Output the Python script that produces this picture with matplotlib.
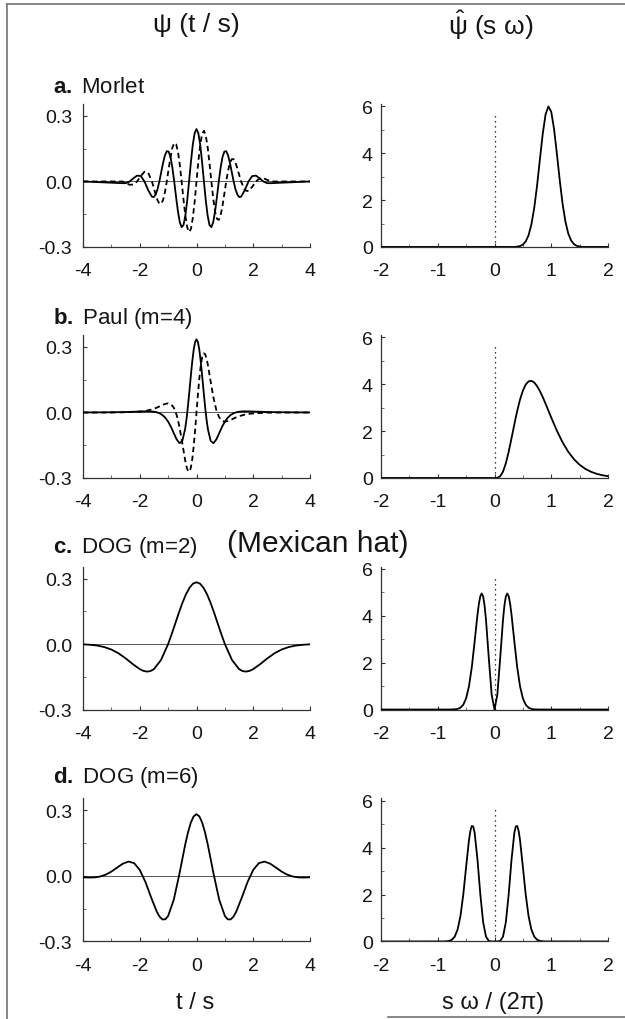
import matplotlib
matplotlib.use("Agg")
import matplotlib.pyplot as plt
from matplotlib.lines import Line2D

plt.rcParams['font.family'] = ['Liberation Sans', 'DejaVu Sans']
plt.rcParams['mathtext.fontset'] = 'custom'
plt.rcParams['mathtext.rm'] = 'Liberation Sans'
plt.rcParams['mathtext.it'] = 'Liberation Sans:italic'
plt.rcParams['mathtext.bf'] = 'Liberation Sans:bold'
plt.rcParams['axes.unicode_minus'] = False

# ---- a. Morlet: real (solid) and imaginary (dashed) part, and spectrum
morlet_t = [-4.0, -2.618, -2.487, -2.356, -2.225, -2.094, -1.963, -1.833, -1.702,
            -1.571, -1.505, -1.440, -1.374, -1.309, -1.244, -1.178, -1.113, -1.047,
            -0.982, -0.916, -0.851, -0.785, -0.720, -0.654, -0.589, -0.524, -0.458,
            -0.393, -0.327, -0.262, -0.196, -0.131, -0.065, 0.0,
            0.065, 0.131, 0.196, 0.262, 0.327, 0.393, 0.458, 0.524, 0.589, 0.654,
            0.720, 0.785, 0.851, 0.916, 0.982, 1.047, 1.113, 1.178, 1.244, 1.309,
            1.374, 1.440, 1.505, 1.571, 1.702, 1.833, 1.963, 2.094, 2.225, 2.356,
            2.487, 2.618, 4.0]
morlet_re = [0.0, -0.0078, -0.0077, 0.0, 0.0143, 0.0268, 0.0247, 0.0, -0.0399,
             -0.0699, -0.0714, -0.0602, -0.0357, 0.0, 0.0424, 0.0848, 0.1194, 0.1387,
             0.1370, 0.1115, 0.0640, 0.0, -0.0709, -0.1370, -0.1864, -0.2093, -0.1996,
             -0.1571, -0.0871, 0.0, 0.0901, 0.1683, 0.2213, 0.2400,
             0.2213, 0.1683, 0.0901, 0.0, -0.0871, -0.1571, -0.1996, -0.2093, -0.1864,
             -0.1370, -0.0709, 0.0, 0.0640, 0.1115, 0.1370, 0.1387, 0.1194, 0.0848,
             0.0424, 0.0, -0.0357, -0.0602, -0.0714, -0.0699, -0.0399, 0.0, 0.0247,
             0.0268, 0.0143, 0.0, -0.0077, -0.0078, 0.0]
morlet_im = [0.0, 0.0, -0.0077, -0.0150, -0.0143, 0.0, 0.0247, 0.0448, 0.0399,
             0.0, -0.0296, -0.0602, -0.0862, -0.1019, -0.1023, -0.0848, -0.0495, 0.0,
             0.0567, 0.1115, 0.1544, 0.1763, 0.1711, 0.1370, 0.0772, 0.0, -0.0827,
             -0.1571, -0.2102, -0.2319, -0.2175, -0.1683, -0.0917, 0.0,
             0.0917, 0.1683, 0.2175, 0.2319, 0.2102, 0.1571, 0.0827, 0.0, -0.0772,
             -0.1370, -0.1711, -0.1763, -0.1544, -0.1115, -0.0567, 0.0, 0.0495, 0.0848,
             0.1023, 0.1019, 0.0862, 0.0602, 0.0296, 0.0, -0.0399, -0.0448, -0.0247,
             0.0, 0.0143, 0.0150, 0.0077, 0.0, 0.0]
morlet_f = [-2.0, 0.35, 0.40, 0.45, 0.50, 0.55, 0.60, 0.65, 0.70, 0.75, 0.80, 0.85,
            0.90, 0.95, 1.00, 1.05, 1.10, 1.15, 1.20, 1.25, 1.30, 1.35, 1.40, 1.45,
            1.50, 1.55, 2.0]
morlet_spec = [0.0, 0.0, 0.014, 0.039, 0.101, 0.236, 0.499, 0.957, 1.662, 2.617, 3.734,
               4.826, 5.652, 5.997, 5.765, 5.021, 3.962, 2.833, 1.835, 1.077, 0.573,
               0.276, 0.120, 0.048, 0.017, 0.0, 0.0]

# ---- b. Paul (m=4)
paul_t = [-4.0, -3.5, -3.0, -2.5, -2.0, -1.9, -1.8, -1.7, -1.6, -1.5, -1.4, -1.3,
          -1.2, -1.1, -1.0, -0.9, -0.8, -0.7, -0.6, -0.5, -0.4, -0.35, -0.3, -0.25,
          -0.2, -0.15, -0.1, -0.05, 0.0, 0.05, 0.1, 0.15, 0.2, 0.25, 0.3, 0.35, 0.4,
          0.5, 0.6, 0.7, 0.8, 0.9, 1.0, 1.1, 1.2, 1.3, 1.4, 1.5, 1.6, 1.7, 1.8, 1.9,
          2.0, 2.5, 3.0, 3.5, 4.0]
paul_re = [0.0003, 0.0005, 0.0011, 0.0022, 0.0044, 0.0048, 0.0052, 0.0052, 0.0048,
           0.0035, 0.0009, -0.0039, -0.0117, -0.0240, -0.0419, -0.0659, -0.0947,
           -0.1231, -0.1406, -0.1304, -0.0753, -0.0282, 0.0306, 0.0976, 0.1674,
           0.2330, 0.2870, 0.3226, 0.3350, 0.3226, 0.2870, 0.2330, 0.1674, 0.0976,
           0.0306, -0.0282, -0.0753, -0.1304, -0.1406, -0.1231, -0.0947, -0.0659,
           -0.0419, -0.0240, -0.0117, -0.0039, 0.0009, 0.0035, 0.0048, 0.0052, 0.0052,
           0.0048, 0.0044, 0.0022, 0.0011, 0.0005, 0.0003]
paul_im = [-0.0001, -0.0001, 0.0, 0.0008, 0.0041, 0.0055, 0.0074, 0.0099, 0.0132,
           0.0172, 0.0222, 0.0280, 0.0341, 0.0394, 0.0419, 0.0379, 0.0224, -0.0109,
           -0.0661, -0.1406, -0.2186, -0.2494, -0.2683, -0.2708, -0.2534, -0.2147,
           -0.1562, -0.0823, 0.0, 0.0823, 0.1562, 0.2147, 0.2534, 0.2708, 0.2683,
           0.2494, 0.2186, 0.1406, 0.0661, 0.0109, -0.0224, -0.0379, -0.0419, -0.0394,
           -0.0341, -0.0280, -0.0222, -0.0172, -0.0132, -0.0099, -0.0074, -0.0055,
           -0.0041, -0.0008, 0.0, 0.0001, 0.0001]
paul_f = [-2.0, 0.0, 0.05, 0.10, 0.15, 0.20, 0.25, 0.30, 0.35, 0.40, 0.45, 0.50,
          0.55, 0.60, 0.65, 0.70, 0.75, 0.80, 0.85, 0.90, 0.95, 1.00, 1.10, 1.20,
          1.30, 1.40, 1.50, 1.60, 1.70, 1.80, 1.90, 2.00]
paul_spec = [0.0, 0.0, 0.006, 0.074, 0.272, 0.628, 1.120, 1.696, 2.295, 2.860, 3.346,
             3.726, 3.984, 4.121, 4.146, 4.074, 3.920, 3.708, 3.451, 3.168, 2.873,
             2.576, 2.012, 1.520, 1.116, 0.801, 0.563, 0.389, 0.265, 0.178, 0.118, 0.077]

# ---- c. DOG (m=2), Mexican hat
dog2_t = [-4.0, -3.75, -3.5, -3.25, -3.0, -2.75, -2.5, -2.25, -2.0, -1.875, -1.75,
          -1.625, -1.5, -1.25, -1.0, -0.875, -0.75, -0.625, -0.5, -0.375, -0.25,
          -0.125, 0.0, 0.125, 0.25, 0.375, 0.5, 0.625, 0.75, 0.875, 1.0, 1.25, 1.5,
          1.625, 1.75, 1.875, 2.0, 2.25, 2.5, 2.75, 3.0, 3.25, 3.5, 3.75, 4.0]
dog2_re = [-0.0014, -0.0033, -0.0070, -0.0138, -0.0252, -0.0423, -0.0653, -0.0915,
           -0.1149, -0.1228, -0.1262, -0.1240, -0.1148, -0.0729, 0.0, 0.0452, 0.0935,
           0.1419, 0.1873, 0.2267, 0.2571, 0.2764, 0.2830, 0.2764, 0.2571, 0.2267,
           0.1873, 0.1419, 0.0935, 0.0452, 0.0, -0.0729, -0.1148, -0.1240, -0.1262,
           -0.1228, -0.1149, -0.0915, -0.0653, -0.0423, -0.0252, -0.0138, -0.0070,
           -0.0033, -0.0014]
dog2_f = [-2.0, -0.8, -0.7, -0.65, -0.6, -0.55, -0.5, -0.45, -0.4, -0.35, -0.3,
          -0.275, -0.25, -0.225, -0.2, -0.175, -0.15, -0.1, -0.05, 0.0, 0.05, 0.1,
          0.15, 0.175, 0.2, 0.225, 0.25, 0.275, 0.3, 0.35, 0.4, 0.45, 0.5, 0.55, 0.6,
          0.65, 0.7, 0.8, 2.0]
dog2_spec = [0.0, 0.0, 0.008, 0.027, 0.078, 0.205, 0.478, 0.988, 1.806, 2.899, 4.045,
             4.514, 4.834, 4.950, 4.824, 4.444, 3.833, 2.180, 0.632, 0.0, 0.632, 2.180,
             3.833, 4.444, 4.824, 4.950, 4.834, 4.514, 4.045, 2.899, 1.806, 0.988, 0.478,
             0.205, 0.078, 0.027, 0.008, 0.0, 0.0]

# ---- d. DOG (m=6)
dog6_t = [-4.0, -3.8, -3.6, -3.4, -3.2, -3.0, -2.8, -2.6, -2.4, -2.2, -2.0, -1.8,
          -1.6, -1.4, -1.3, -1.2, -1.1, -1.0, -0.8, -0.6, -0.4, -0.3, -0.2, -0.1,
          0.0, 0.1, 0.2, 0.3, 0.4, 0.6, 0.8, 1.0, 1.1, 1.2, 1.3, 1.4, 1.6, 1.8, 2.0,
          2.2, 2.4, 2.6, 2.8, 3.0, 3.2, 3.4, 3.6, 3.8, 4.0]
dog6_re = [-0.0061, -0.0071, -0.0065, -0.0027, 0.0060, 0.0201, 0.0383, 0.0561, 0.0660,
           0.0591, 0.0281, -0.0274, -0.0980, -0.1636, -0.1867, -0.1991, -0.1984,
           -0.1831, -0.1085, 0.0110, 0.1425, 0.1997, 0.2445, 0.2732, 0.2830, 0.2732,
           0.2445, 0.1997, 0.1425, 0.0110, -0.1085, -0.1831, -0.1984, -0.1991, -0.1867,
           -0.1636, -0.0980, -0.0274, 0.0281, 0.0591, 0.0660, 0.0561, 0.0383, 0.0201,
           0.0060, -0.0027, -0.0065, -0.0071, -0.0061]
dog6_f = [-2.0, -0.9, -0.85, -0.8, -0.75, -0.7, -0.65, -0.6, -0.55, -0.5, -0.45,
          -0.425, -0.4, -0.375, -0.35, -0.3, -0.25, -0.2, -0.15, -0.1, -0.05, 0.0,
          0.05, 0.1, 0.15, 0.2, 0.25, 0.3, 0.35, 0.375, 0.4, 0.425, 0.45, 0.5, 0.55,
          0.6, 0.65, 0.7, 0.75, 0.8, 0.85, 0.9, 2.0]
dog6_spec = [0.0, 0.002, 0.007, 0.024, 0.076, 0.210, 0.510, 1.084, 2.000, 3.183, 4.319,
             4.721, 4.930, 4.907, 4.639, 3.494, 2.014, 0.823, 0.207, 0.023, 0.0004, 0.0,
             0.0004, 0.023, 0.207, 0.823, 2.014, 3.494, 4.639, 4.907, 4.930, 4.721,
             4.319, 3.183, 2.000, 1.084, 0.510, 0.210, 0.076, 0.024, 0.007, 0.002, 0.0]

labels = [r'$\mathbf{a.}$ Morlet', r'$\mathbf{b.}$ Paul (m=4)',
          r'$\mathbf{c.}$ DOG (m=2)', r'$\mathbf{d.}$ DOG (m=6)']

time_rows = [(morlet_t, morlet_re, morlet_im), (paul_t, paul_re, paul_im),
             (dog2_t, dog2_re, None), (dog6_t, dog6_re, None)]
freq_rows = [(morlet_f, morlet_spec), (paul_f, paul_spec),
             (dog2_f, dog2_spec), (dog6_f, dog6_spec)]

fig = plt.figure(figsize=(6.25, 10.2), dpi=100)

bottoms = [0.7569, 0.5304, 0.3034, 0.0760]
label_y = [0.9147, 0.6882, 0.4637, 0.2373]
ink = '#151515'


def style(ax):
    ax.spines['top'].set_visible(False)
    ax.spines['right'].set_visible(False)
    for s in ('left', 'bottom'):
        ax.spines[s].set_linewidth(0.9)
        ax.spines[s].set_color('#333333')
    ax.tick_params(which='major', direction='in', length=3, width=0.8,
                   labelsize=14, labelcolor=ink, color='#333333')
    ax.tick_params(which='minor', direction='in', length=2, width=0.6, color='#555555')
    ax.tick_params(axis='x', pad=11)
    ax.patch.set_alpha(0)


for i in range(4):
    # time domain
    ax = fig.add_axes([0.1328, bottoms[i], 0.3632, 0.1402])
    style(ax)
    t, re, im = time_rows[i]
    ax.axhline(0, color='0.35', lw=0.7, zorder=1)
    ax.plot(t, re, color='k', lw=1.3, zorder=3)
    if im is not None:
        ax.plot(t, im, color='k', lw=1.3, ls='--', dashes=(3, 2), zorder=2)
    ax.set_xlim(-4, 4)
    ax.set_ylim(-0.3, 0.355)
    ax.set_xticks([-4, -2, 0, 2, 4], ['-4', '-2', '0', '2', '4'])
    ax.set_xticks([-3, -1, 1, 3], minor=True)
    ax.set_yticks([-0.3, 0.0, 0.3], ['-0.3', '0.0', '0.3'])
    ax.set_yticks([-0.15, 0.15], minor=True)
    ax.tick_params(axis='y', pad=8)

    # frequency domain
    ax2 = fig.add_axes([0.6096, bottoms[i], 0.3632, 0.1402])
    style(ax2)
    f, p = freq_rows[i]
    ax2.axvline(0, ymin=0, ymax=0.93, color='k', ls=(0, (1, 3)), lw=0.9)
    ax2.plot(f, p, color='k', lw=1.3, zorder=3)
    ax2.set_xlim(-2, 2)
    ax2.set_ylim(0, 6.1)
    ax2.set_xticks([-2, -1, 0, 1, 2], ['-2', '-1', '0', '1', '2'])
    ax2.set_xticks([-1.5, -0.5, 0.5, 1.5], minor=True)
    ax2.set_yticks([0, 2, 4, 6], ['0', '2', '4', '6'])
    ax2.set_yticks([1, 3, 5], minor=True)
    ax2.tick_params(axis='y', pad=6)

    fig.text(0.085, label_y[i], labels[i], fontsize=16, ha='left', va='center', color=ink)

fig.text(0.3632, 0.4662, '(Mexican hat)', fontsize=21.5, ha='left', va='center', color=ink)

# column headings and axis titles
fig.text(0.3136, 0.9755, 'ψ (t / s)', fontsize=19, ha='center', va='center', color=ink)
fig.text(0.7856, 0.9755, r'$\hat{\mathrm{\psi}}$ (s ω)', fontsize=19, ha='center',
         va='center', color=ink)
fig.text(0.312, 0.0167, 't / s', fontsize=17, ha='center', va='center', color=ink)
fig.text(0.789, 0.0167, 's ω / (2π)', fontsize=17, ha='center', va='center', color=ink)

# page frame
for xs, ys in [((0.011, 1.0), (0.995, 0.995)), ((0.011, 0.011), (0.0, 0.995)),
               ((0.62, 1.0), (0.002, 0.002))]:
    fig.add_artist(Line2D(xs, ys, transform=fig.transFigure, color='0.45', lw=1.2))

fig.savefig('out.png', dpi=100, facecolor='white')
